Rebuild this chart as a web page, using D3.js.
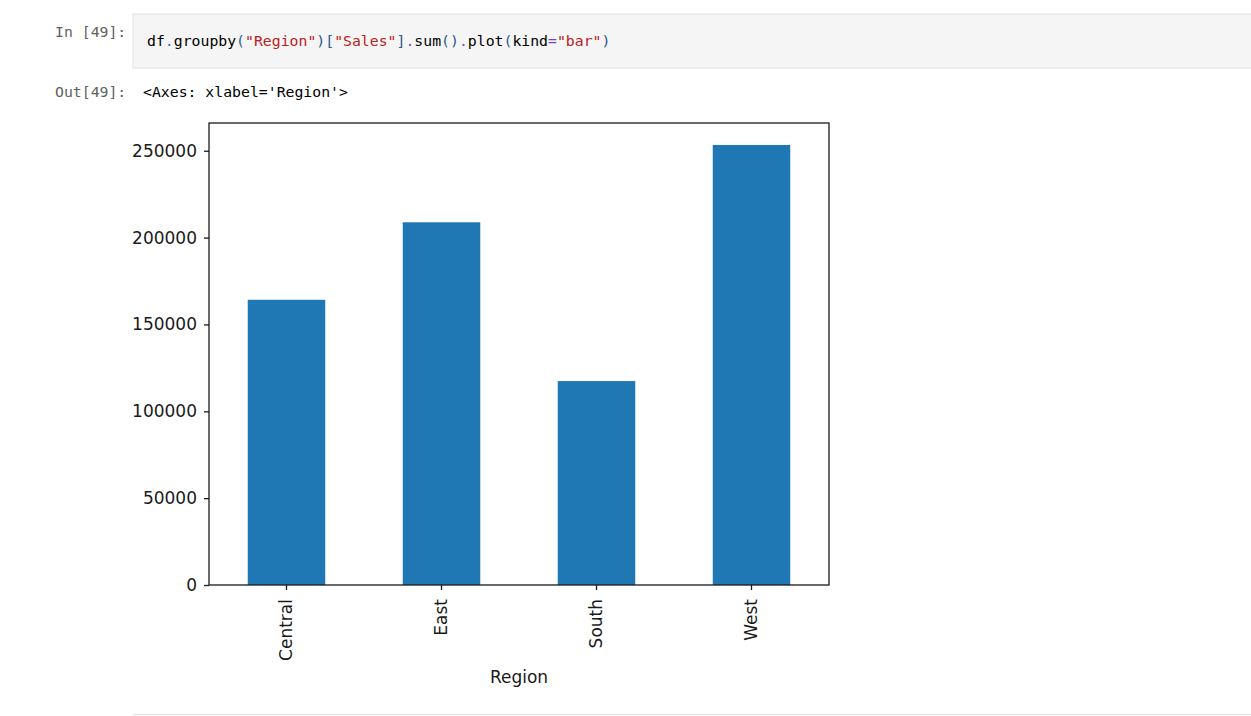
<!DOCTYPE html>
<html lang="en">
<head>
  <meta charset="UTF-8">
  <title>Region sales</title>
  <style>
    body { margin: 0; background: #fff; }
    svg { display: block; }
    .mono { font-family: "DejaVu Sans Mono", "Liberation Mono", monospace; font-size: 14.8px; }
    .axis text { font-family: "DejaVu Sans", sans-serif; font-size: 17px; fill: #1a1a1a; }
    .axis line, .axis path { stroke: #1a1a1a; stroke-width: 1.3px; }
  </style>
</head>
<body>
<script src="https://d3js.org/d3.v7.min.js"></script>
<script>
  // data
  const regions = ["Central", "East", "South", "West"];
  const sales = [164200, 208800, 117400, 253300];
  const yTicks = [0, 50000, 100000, 150000, 200000, 250000];

  // code line, split into coloured pieces
  const codeParts = [
    ["df", "#000"], [".", "#6a5acd"], ["groupby", "#000"], ["(", "#2b5a8a"],
    ["\"Region\"", "#ba2121"], [")[", "#2b5a8a"], ["\"Sales\"", "#ba2121"], ["]", "#2b5a8a"],
    [".", "#6a5acd"], ["sum", "#000"], ["()", "#2b5a8a"], [".", "#6a5acd"], ["plot", "#000"],
    ["(", "#2b5a8a"], ["kind", "#000"], ["=", "#7a3fc0"], ["\"bar\"", "#ba2121"], [")", "#2b5a8a"]
  ];

  const W = 1251, H = 716;
  const svg = d3.select("body").append("svg")
      .attr("width", W)
      .attr("height", H);

  // notebook input cell
  svg.append("rect")
      .attr("x", 133).attr("y", 14)
      .attr("width", W - 133 + 2).attr("height", 54)
      .attr("fill", "#f5f5f5")
      .attr("stroke", "#e0e0e0");

  svg.append("text").attr("class", "mono")
      .attr("x", 55).attr("y", 37)
      .attr("fill", "#616161")
      .text("In [49]:");

  const code = svg.append("text").attr("class", "mono")
      .attr("x", 147).attr("y", 46)
      .attr("xml:space", "preserve");
  code.selectAll("tspan")
      .data(codeParts)
      .join("tspan")
      .attr("fill", d => d[1])
      .text(d => d[0]);

  svg.append("text").attr("class", "mono")
      .attr("x", 55).attr("y", 97)
      .attr("fill", "#616161")
      .text("Out[49]:");

  svg.append("text").attr("class", "mono")
      .attr("x", 143).attr("y", 97)
      .attr("fill", "#000")
      .text("<Axes: xlabel='Region'>");

  // bottom border of the cell
  svg.append("line")
      .attr("x1", 133).attr("x2", W)
      .attr("y1", 714.5).attr("y2", 714.5)
      .attr("stroke", "#e0e0e0");

  // plot area
  const pLeft = 209, pRight = 829, pTop = 123, pBottom = 585;

  const x = d3.scaleBand()
      .domain(regions)
      .range([pLeft, pRight])
      .paddingInner(0.5)
      .paddingOuter(0.25);

  const y = d3.scaleLinear()
      .domain([0, d3.max(sales) * 1.05])
      .range([pBottom, pTop]);

  svg.append("g")
    .selectAll("rect")
    .data(regions)
    .join("rect")
      .attr("x", d => x(d))
      .attr("width", x.bandwidth())
      .attr("y", (d, i) => y(sales[i]))
      .attr("height", (d, i) => y(0) - y(sales[i]))
      .attr("fill", "#1f77b4");

  svg.append("g")
      .attr("class", "axis")
      .attr("transform", `translate(${pLeft},0)`)
      .call(d3.axisLeft(y).tickValues(yTicks).tickFormat(d3.format("d")).tickSize(5).tickPadding(7))
      .call(g => g.select(".domain").remove());

  const xa = svg.append("g")
      .attr("class", "axis")
      .attr("transform", `translate(0,${pBottom})`)
      .call(d3.axisBottom(x).tickSize(5))
      .call(g => g.select(".domain").remove());
  xa.selectAll("text")
      .attr("transform", "rotate(-90)")
      .attr("text-anchor", "end")
      .attr("x", -14)
      .attr("y", 0)
      .attr("dy", "0.35em");

  // spines
  svg.append("rect")
      .attr("x", pLeft).attr("y", pTop)
      .attr("width", pRight - pLeft).attr("height", pBottom - pTop)
      .attr("fill", "none")
      .attr("stroke", "#1a1a1a")
      .attr("stroke-width", 1.3);

  svg.append("text")
      .attr("x", (pLeft + pRight) / 2)
      .attr("y", 683)
      .attr("text-anchor", "middle")
      .attr("font-family", "DejaVu Sans, sans-serif")
      .attr("font-size", 17)
      .attr("fill", "#1a1a1a")
      .text("Region");
</script>
</body>
</html>
